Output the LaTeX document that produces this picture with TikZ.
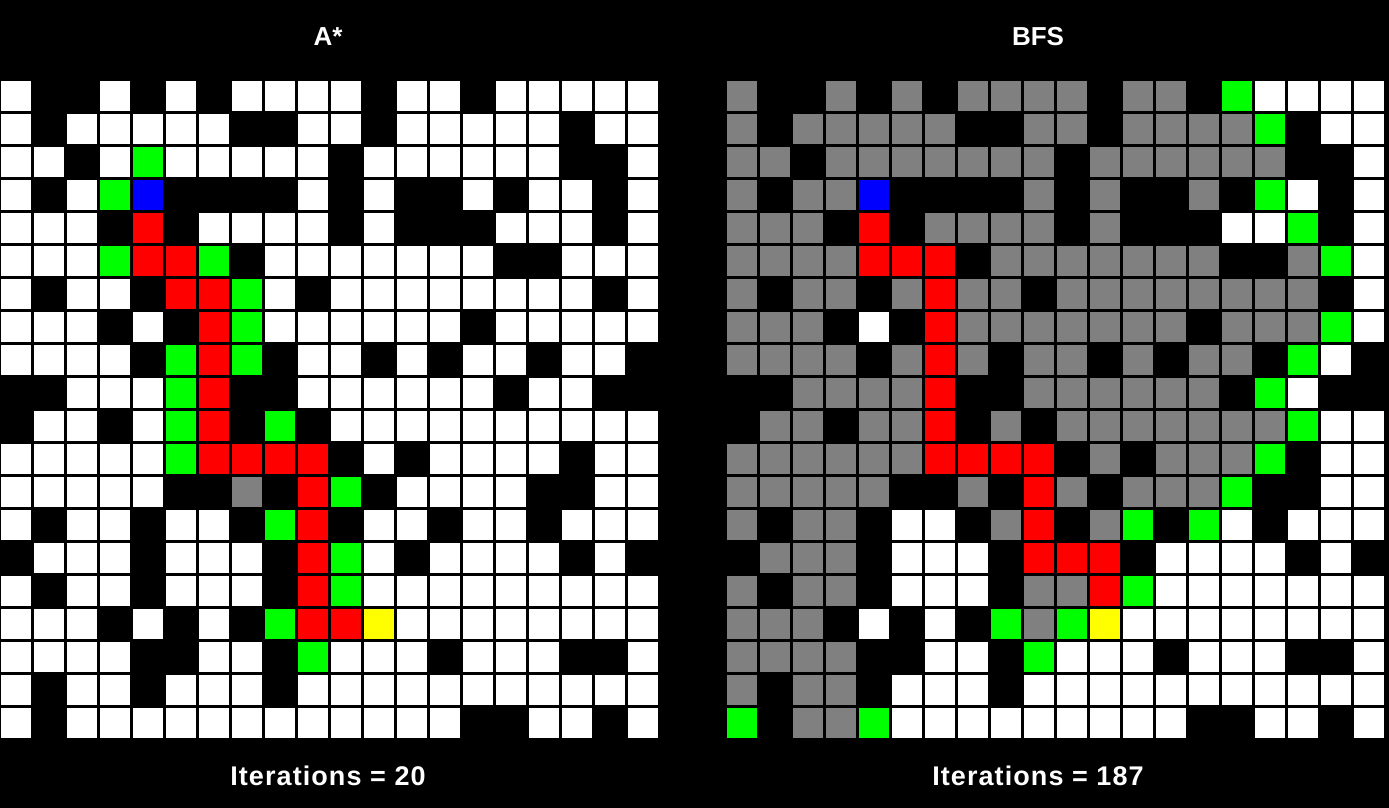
\documentclass[tikz,border=0pt]{standalone}
\usepackage{fontspec}
\setmainfont{Liberation Sans}

\definecolor{cW}{RGB}{255,255,255}
\definecolor{cK}{RGB}{0,0,0}
\definecolor{cS}{RGB}{128,128,128}
\definecolor{cG}{RGB}{0,255,0}
\definecolor{cR}{RGB}{255,0,0}
\definecolor{cB}{RGB}{0,0,255}
\definecolor{cY}{RGB}{255,255,0}

%% W free, K wall, S visited, G frontier, R path, B start, Y goal
\def\astarmaze{%
{W,K,K,W,K,W,K,W,W,W,W,K,W,W,K,W,W,W,W,W},
{W,K,W,W,W,W,W,K,K,W,W,K,W,W,W,W,W,K,W,W},
{W,W,K,W,G,W,W,W,W,W,K,W,W,W,W,W,W,K,K,W},
{W,K,W,G,B,K,K,K,K,W,K,W,K,K,W,K,W,W,K,W},
{W,W,W,K,R,K,W,W,W,W,K,W,K,K,K,W,W,W,K,W},
{W,W,W,G,R,R,G,K,W,W,W,W,W,W,W,K,K,W,W,W},
{W,K,W,W,K,R,R,G,W,K,W,W,W,W,W,W,W,W,K,W},
{W,W,W,K,W,K,R,G,W,W,W,W,W,W,K,W,W,W,W,W},
{W,W,W,W,K,G,R,G,K,W,W,K,W,K,W,W,K,W,W,K},
{K,K,W,W,W,G,R,K,K,W,W,W,W,W,W,K,W,W,K,K},
{K,W,W,K,W,G,R,K,G,K,W,W,W,W,W,W,W,W,W,W},
{W,W,W,W,W,G,R,R,R,R,K,W,K,W,W,W,W,K,W,W},
{W,W,W,W,W,K,K,S,K,R,G,K,W,W,W,W,K,K,W,W},
{W,K,W,W,K,W,W,K,G,R,K,W,W,K,W,W,K,W,W,W},
{K,W,W,W,K,W,W,W,K,R,G,W,K,W,W,W,W,K,W,K},
{W,K,W,W,K,W,W,W,K,R,G,W,W,W,W,W,W,W,W,W},
{W,W,W,K,W,K,W,K,G,R,R,Y,W,W,W,W,W,W,W,W},
{W,W,W,W,K,K,W,W,K,G,W,W,W,K,W,W,W,K,K,W},
{W,K,W,W,K,W,W,W,K,W,W,W,W,W,W,W,W,W,W,W},
{W,K,W,W,W,W,W,W,W,W,W,W,W,W,K,K,W,W,K,W}}

\def\bfsmaze{%
{S,K,K,S,K,S,K,S,S,S,S,K,S,S,K,G,W,W,W,W},
{S,K,S,S,S,S,S,K,K,S,S,K,S,S,S,S,G,K,W,W},
{S,S,K,S,S,S,S,S,S,S,K,S,S,S,S,S,S,K,K,W},
{S,K,S,S,B,K,K,K,K,S,K,S,K,K,S,K,G,W,K,W},
{S,S,S,K,R,K,S,S,S,S,K,S,K,K,K,W,W,G,K,W},
{S,S,S,S,R,R,R,K,S,S,S,S,S,S,S,K,K,S,G,W},
{S,K,S,S,K,S,R,S,S,K,S,S,S,S,S,S,S,S,K,W},
{S,S,S,K,W,K,R,S,S,S,S,S,S,S,K,S,S,S,G,W},
{S,S,S,S,K,S,R,S,K,S,S,K,S,K,S,S,K,G,W,K},
{K,K,S,S,S,S,R,K,K,S,S,S,S,S,S,K,G,W,K,K},
{K,S,S,K,S,S,R,K,S,K,S,S,S,S,S,S,S,G,W,W},
{S,S,S,S,S,S,R,R,R,R,K,S,K,S,S,S,G,K,W,W},
{S,S,S,S,S,K,K,S,K,R,S,K,S,S,S,G,K,K,W,W},
{S,K,S,S,K,W,W,K,S,R,K,S,G,K,G,W,K,W,W,W},
{K,S,S,S,K,W,W,W,K,R,R,R,K,W,W,W,W,K,W,K},
{S,K,S,S,K,W,W,W,K,S,S,R,G,W,W,W,W,W,W,W},
{S,S,S,K,W,K,W,K,G,S,G,Y,W,W,W,W,W,W,W,W},
{S,S,S,S,K,K,W,W,K,G,W,W,W,K,W,W,W,K,K,W},
{S,K,S,S,K,W,W,W,K,W,W,W,W,W,W,W,W,W,W,W},
{G,K,S,S,G,W,W,W,W,W,W,W,W,W,K,K,W,W,K,W}}

\begin{document}
\begin{tikzpicture}[x=0.5pt,y=-0.5pt,
  lbl/.style={text=white, anchor=base, inner sep=0pt,
    font=\bfseries\fontsize{13}{15}\selectfont},
  iters/.style={lbl, font=\bfseries\fontsize{13.5}{15}\selectfont\addfontfeatures{LetterSpace=4}}]
  \useasboundingbox (0,0) rectangle (1389,808);
  \fill[black] (0,0) rectangle (1389,808);
  %% A* grid
  \foreach \row [count=\i from 0] in \astarmaze {
    \foreach \c [count=\j from 0] in \row
      \fill[c\c] (1+33*\j,81+33*\i) rectangle +(30,30); }
  %% BFS grid
  \foreach \row [count=\i from 0] in \bfsmaze {
    \foreach \c [count=\j from 0] in \row
      \fill[c\c] (727+33*\j,81+33*\i) rectangle +(30,30); }
  %% titles and counts
  \node[lbl] (titleAstar) at (328,46) {A*};
  \node[lbl] (titleBFS) at (1038,46) {BFS};
  \node[iters] (itersAstar) at (328,785) {Iterations = 20};
  \node[iters] (itersBFS) at (1038,785) {Iterations = 187};
\end{tikzpicture}
\end{document}
